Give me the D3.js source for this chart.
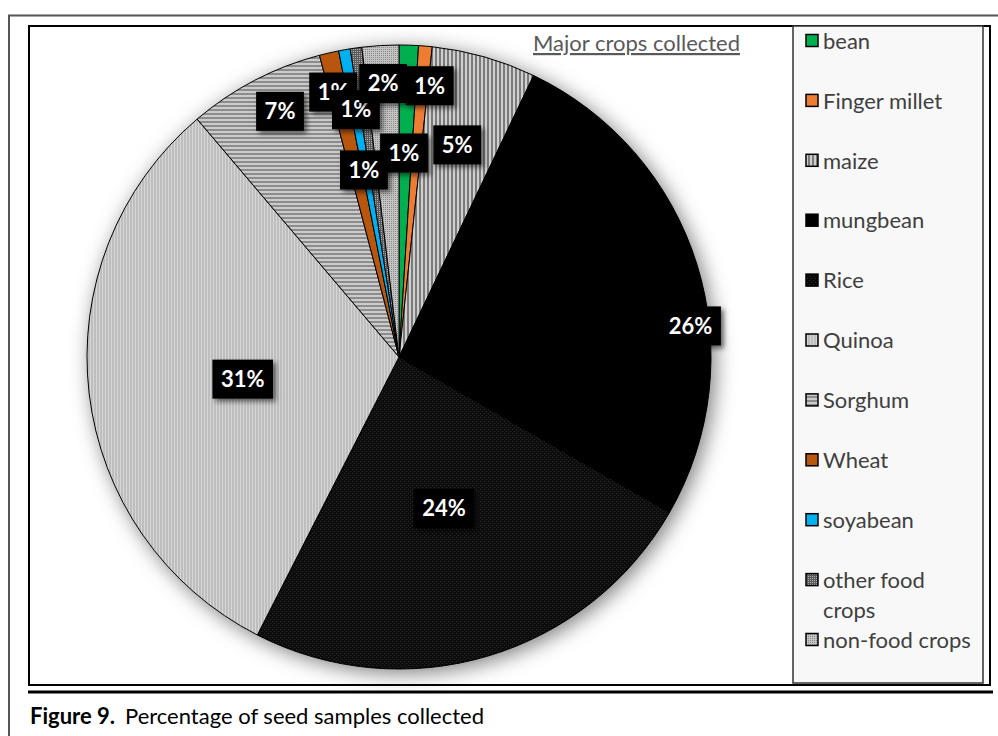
<!DOCTYPE html>
<html>
<head>
<meta charset="utf-8">
<script src="https://cdn.jsdelivr.net/npm/d3@7"></script>
<style>
  html, body { margin: 0; padding: 0; background: #fff; }
  svg { display: block; font-family: Lato, "Open Sans", sans-serif; }
</style>
</head>
<body>
<svg id="chart" width="998" height="736"></svg>
<script>
// ---- data -------------------------------------------------------------
const crops = ["bean", "Finger millet", "maize", "mungbean", "Rice", "Quinoa",
               "Sorghum", "Wheat", "soyabean", "other food crops", "non-food crops"];
const shares = [1.0, 0.7, 5.4, 26.2, 24.2, 31.3, 7.1, 1.0, 0.6, 0.6, 1.9];
const chartTitle = "Major crops collected";
const captionBold = "Figure 9.";
const captionText = "Percentage of seed samples collected";

// ---- layout -----------------------------------------------------------
const W = 998, H = 736;
const cx = 399, cy = 357, R = 312;
// data-label placement: radius as fraction of R, angular nudge in degrees
const labelRadius = [0.654, 0.875, 0.705, 0.94, 0.506, 0.506, 0.875, 0.875, 0.805, 0.61, 0.878];
const labelNudge  = [-0.4, 1.6, -0.5, 11.2, 0, -1.4, 1.7, -1.0, 0.2, -2.7, 0.1];

const svg = d3.select("#chart");
const defs = svg.append("defs");

// fills: solid colours and hatch/dot textures
function pattern(id, w, h, bg, draw) {
  const p = defs.append("pattern").attr("id", id).attr("patternUnits", "userSpaceOnUse")
    .attr("width", w).attr("height", h);
  p.append("rect").attr("width", w).attr("height", h).attr("fill", bg);
  draw(p);
  return `url(#${id})`;
}
const fills = [
  "#00B050",
  "#ED7D31",
  pattern("pMaize", 4, 4, "#cfcfcf", p => p.append("rect").attr("width", 2).attr("height", 4).attr("fill", "#7a7a7a")),
  "#000000",
  pattern("pRice", 4, 4, "#080808", p => {
    p.append("rect").attr("x", 1).attr("y", 0).attr("width", 1).attr("height", 1).attr("fill", "#2a2a2a");
    p.append("rect").attr("x", 3).attr("y", 2).attr("width", 1).attr("height", 1).attr("fill", "#2a2a2a");
  }),
  pattern("pQuinoa", 3, 3, "#bebebe", p => p.append("rect").attr("width", 1).attr("height", 3).attr("fill", "#d6d6d6")),
  pattern("pSorghum", 4, 4, "#cbcbcb", p => p.append("rect").attr("width", 4).attr("height", 2).attr("fill", "#8c8c8c")),
  "#B9560F",
  "#00B0F0",
  pattern("pOther", 2, 2, "#5a5a5a", p => p.append("rect").attr("width", 1).attr("height", 1).attr("fill", "#b0b0b0")),
  pattern("pNonFood", 2, 2, "#c4c4c4", p => p.append("rect").attr("width", 1).attr("height", 1).attr("fill", "#8a8a8a"))
];

// soft shadows
const shPie = defs.append("filter").attr("id", "pieShadow")
  .attr("x", "-20%").attr("y", "-20%").attr("width", "140%").attr("height", "140%");
shPie.append("feDropShadow").attr("dx", 4).attr("dy", 4).attr("stdDeviation", 10)
  .attr("flood-color", "#000").attr("flood-opacity", 0.5);
const shLab = defs.append("filter").attr("id", "labShadow")
  .attr("x", "-30%").attr("y", "-30%").attr("width", "170%").attr("height", "170%");
shLab.append("feDropShadow").attr("dx", 3).attr("dy", 3).attr("stdDeviation", 2.5)
  .attr("flood-color", "#000").attr("flood-opacity", 0.55);

// ---- frames -----------------------------------------------------------
svg.append("path").attr("d", `M9,736 V15.5 H998`).attr("fill", "none")
  .attr("stroke", "#555").attr("stroke-width", 2);
svg.append("rect").attr("x", 29).attr("y", 26).attr("width", 961).attr("height", 659)
  .attr("fill", "#fff").attr("stroke", "#000").attr("stroke-width", 2);
svg.append("line").attr("x1", 28).attr("x2", 993).attr("y1", 692).attr("y2", 692)
  .attr("stroke", "#000").attr("stroke-width", 3);

// ---- pie --------------------------------------------------------------
const pie = d3.pie().sort(null).value(d => d)(shares);
const arc = d3.arc().innerRadius(0).outerRadius(R);
const gPie = svg.append("g").attr("transform", `translate(${cx},${cy})`);

gPie.append("g").attr("filter", "url(#pieShadow)")
  .selectAll("path").data(pie).join("path")
  .attr("d", arc)
  .attr("fill", (d, i) => fills[i])
  .attr("stroke", "#000").attr("stroke-width", 1).attr("stroke-linejoin", "round");

// title
svg.append("text").attr("x", 533).attr("y", 51)
  .attr("font-size", 22).attr("fill", "#595959")
  .attr("text-decoration", "underline").text(chartTitle);

// ---- data labels ------------------------------------------------------
const fmt = v => d3.format(".0f")(v) + "%";
const gLab = gPie.append("g");
pie.forEach((d, i) => {
  const a = (d.startAngle + d.endAngle) / 2 + labelNudge[i] * Math.PI / 180;
  const r = labelRadius[i] * R;
  const x = r * Math.sin(a), y = -r * Math.cos(a);
  const g = gLab.append("g").attr("transform", `translate(${x},${y})`);
  const rect = g.append("rect").attr("fill", "#000").attr("filter", "url(#labShadow)");
  const t = g.append("text").attr("text-anchor", "middle").attr("dy", "0.36em")
    .attr("font-size", 22).attr("font-weight", 700).attr("fill", "#fff")
    .text(fmt(shares[i]));
  const tw = t.node().getComputedTextLength();
  const bw = tw + 17, bh = 39;
  rect.attr("x", -bw / 2).attr("y", -bh / 2).attr("width", bw).attr("height", bh);
});

// ---- legend -----------------------------------------------------------
svg.append("rect").attr("x", 793).attr("y", 26).attr("width", 190).attr("height", 657)
  .attr("fill", "#f8f8f8").attr("stroke", "#333").attr("stroke-width", 1.5);
const ly = d3.scaleLinear().domain([0, crops.length - 1]).range([41, 640]);
const gLeg = svg.append("g");
crops.forEach((name, i) => {
  const y = ly(i);
  gLeg.append("rect").attr("x", 806).attr("y", y - 6.5).attr("width", 12).attr("height", 12)
    .attr("fill", fills[i]).attr("stroke", "#000").attr("stroke-width", 1.5);
  const words = name === "other food crops" ? ["other food", "crops"] : [name];
  words.forEach((w, k) => {
    gLeg.append("text").attr("x", 823).attr("y", y + k * 30).attr("dy", "0.35em")
      .attr("font-size", 22).attr("fill", "#404040").text(w);
  });
});

// ---- caption ----------------------------------------------------------
const cap = svg.append("text").attr("x", 30).attr("y", 724).attr("font-size", 22).attr("fill", "#000");
cap.append("tspan").attr("font-weight", 700).text(captionBold);
cap.append("tspan").attr("dx", 10).text(captionText);
</script>
</body>
</html>
